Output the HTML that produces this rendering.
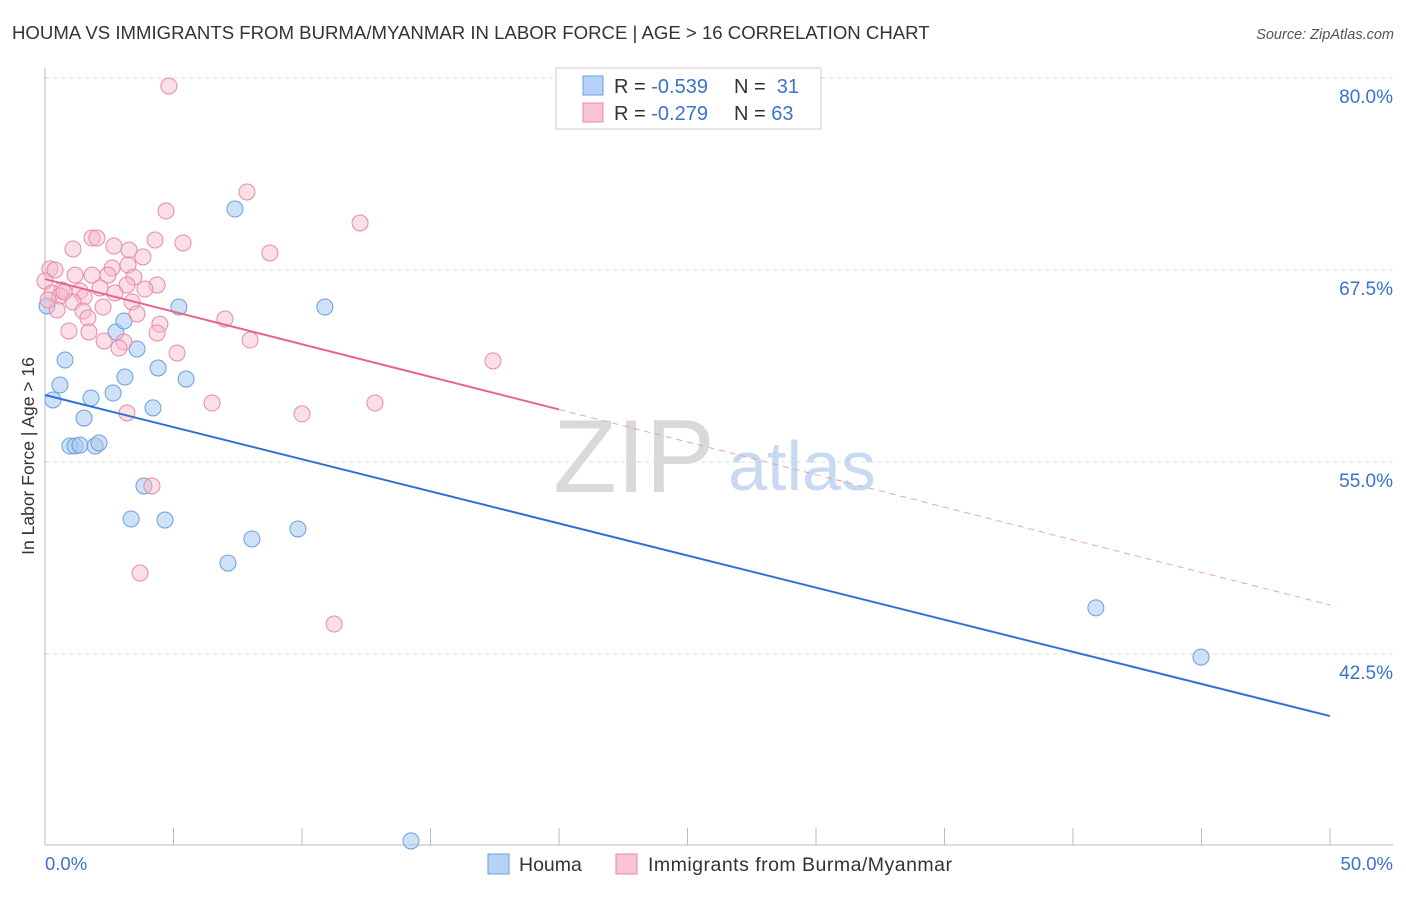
<!DOCTYPE html>
<html><head><meta charset="utf-8"><style>
body{margin:0;background:#fff;font-family:"Liberation Sans",sans-serif;}
svg text{font-family:"Liberation Sans",sans-serif;}
</style></head><body>
<svg id="chart" width="1406" height="892" viewBox="0 0 1406 892">
<text x="12" y="39" font-size="18.6" fill="#333">HOUMA VS IMMIGRANTS FROM BURMA/MYANMAR IN LABOR FORCE | AGE &gt; 16 CORRELATION CHART</text>
<text x="1394" y="39" font-size="14.5" fill="#555" font-style="italic" text-anchor="end">Source: ZipAtlas.com</text>
<g id="grid"></g>
<g>
<text x="634" y="492" font-size="104" font-family="Liberation Serif" fill="#d9d9d9" text-anchor="middle">ZIP</text>
<text x="802" y="490" font-size="70" fill="#c8daf2" text-anchor="middle">atlas</text>
</g>
<g id="marks"></g>
<text transform="translate(34,456) rotate(-90)" font-size="17.5" fill="#333" text-anchor="middle">In Labor Force | Age &gt; 16</text>
<g>
<rect x="556" y="68" width="265" height="61" fill="#fff" stroke="#ccc"/>
<rect x="583" y="76" width="20" height="19" fill="#b7d2f5" stroke="#6a9fe0"/>
<rect x="583" y="103" width="20" height="19" fill="#f9c4d3" stroke="#e88aa8"/>
<text x="614" y="93" font-size="20" fill="#333">R = <tspan fill="#3a73c8">-0.539</tspan><tspan x="734">N = </tspan><tspan fill="#3a73c8">&#160;31</tspan></text>
<text x="614" y="120" font-size="20" fill="#333">R = <tspan fill="#3a73c8">-0.279</tspan><tspan x="734">N = </tspan><tspan fill="#3a73c8">63</tspan></text>
</g>
<g>
<rect x="488" y="854" width="21" height="20" fill="#b7d2f5" stroke="#6a9fe0"/>
<text x="519" y="871" font-size="19.5" fill="#333">Houma</text>
<rect x="616" y="854" width="21" height="20" fill="#f9c4d3" stroke="#e88aa8"/>
<text x="648" y="871" font-size="19.5" fill="#333" textLength="304">Immigrants from Burma/Myanmar</text>
</g>
<text x="45" y="870" font-size="18.5" fill="#3a73c8">0.0%</text>
<text x="1393" y="870" font-size="18.5" fill="#3a73c8" text-anchor="end">50.0%</text>
</svg>
<script>
const yTicks=[80,67.5,55,42.5];
const yTickLabels=["80.0%","67.5%","55.0%","42.5%"];
const xTickVals=[0,5,10,15,20,25,30,35,40,45,50];
const houmaX=[0.08,0.31,0.58,0.78,0.97,1.17,1.36,1.52,1.79,1.95,2.1,2.65,2.76,3.07,3.11,3.35,3.58,3.85,4.2,4.4,4.67,5.21,5.49,7.12,7.39,8.05,9.84,10.89,14.24,40.89,44.98];
const houmaY=[65.16,59.04,60.01,61.64,56.04,56.04,56.1,57.86,59.17,56.04,56.24,59.49,63.46,64.18,60.53,51.29,62.36,53.44,58.52,61.12,51.22,65.09,60.4,48.42,71.47,49.99,50.64,65.09,30.33,45.5,42.3];
const burmaX=[4.82,7.86,4.71,12.26,1.83,2.02,4.28,5.37,2.68,1.09,3.27,8.75,3.81,0.19,0.39,2.61,3.23,3.46,1.83,2.45,1.17,0,0.66,1.36,2.14,3.19,4.36,3.89,0.27,0.58,2.72,1.52,3.39,1.09,2.26,0.47,1.48,3.58,1.67,7.0,4.47,0.93,1.71,4.36,2.3,3.07,2.88,7.98,5.14,17.43,6.5,12.84,3.19,10.0,4.16,3.7,11.25,0.74,0.12];
const burmaY=[79.48,72.58,71.34,70.56,69.58,69.58,69.45,69.26,69.06,68.87,68.8,68.61,68.35,67.57,67.5,67.63,67.83,67.04,67.17,67.17,67.17,66.78,66.2,66.13,66.33,66.52,66.52,66.26,66.0,65.81,66.0,65.74,65.42,65.42,65.09,64.9,64.83,64.64,64.38,64.31,63.98,63.53,63.46,63.4,62.88,62.81,62.42,62.94,62.1,61.58,58.84,58.84,58.19,58.13,53.44,47.77,44.45,66.07,65.55];
const houmaTrend=[59.36,38.46];
const burmaTrend=[66.91,45.69];
const burmaSolidEnd=20;

const NS="http://www.w3.org/2000/svg";
const X=v=>45+v*25.7;
const Y=v=>78+(80-v)*15.36;
function mk(tag,attrs,parent){const e=document.createElementNS(NS,tag);for(const k in attrs)e.setAttribute(k,attrs[k]);parent.appendChild(e);return e;}
const grid=document.getElementById('grid'),marks=document.getElementById('marks');
yTicks.forEach((t,i)=>{
 const l=mk('line',{x1:45,x2:1393,y1:Y(t),y2:Y(t),stroke:'#ddd','stroke-dasharray':'4,4'},grid);
 
 
 const tx=mk('text',{x:1393,y:Y(t)+25,'font-size':19,fill:'#3a73c8','text-anchor':'end'},grid);
 tx.textContent=yTickLabels[i];
 
 
});
const ax=mk('line',{x1:45,x2:1393,y1:845,y2:845,stroke:'#bbb'},grid);


const ay=mk('line',{x1:45,x2:45,y1:68,y2:845,stroke:'#bbb'},grid);


xTickVals.forEach(v=>{
 const t=mk('line',{x1:X(v),x2:X(v),y1:828,y2:845,stroke:'#bbb'},grid);
 
 
});
houmaX.forEach((x,i)=>{
 const c=mk('circle',{cx:X(x),cy:Y(houmaY[i]),r:8,fill:'rgba(168,200,240,0.55)',stroke:'#6a9fe0','stroke-width':1},marks);
 
 
});
burmaX.forEach((x,i)=>{
 const c=mk('circle',{cx:X(x),cy:Y(burmaY[i]),r:8,fill:'rgba(246,184,202,0.45)',stroke:'#e88aa8','stroke-width':1},marks);
 
 
});
const hl=mk('line',{x1:X(0),y1:Y(houmaTrend[0]),x2:X(50),y2:Y(houmaTrend[1]),stroke:'#2f72d6','stroke-width':2},marks);


const bm=burmaTrend[0]+(burmaTrend[1]-burmaTrend[0])*burmaSolidEnd/50;
const bl=mk('line',{x1:X(0),y1:Y(burmaTrend[0]),x2:X(burmaSolidEnd),y2:Y(bm),stroke:'#e8648f','stroke-width':2},marks);


const bd=mk('line',{x1:X(burmaSolidEnd),y1:Y(bm),x2:X(50),y2:Y(burmaTrend[1]),stroke:'#e8a0b8','stroke-width':1,'stroke-dasharray':'6,5'},marks);


</script>
</body></html>
